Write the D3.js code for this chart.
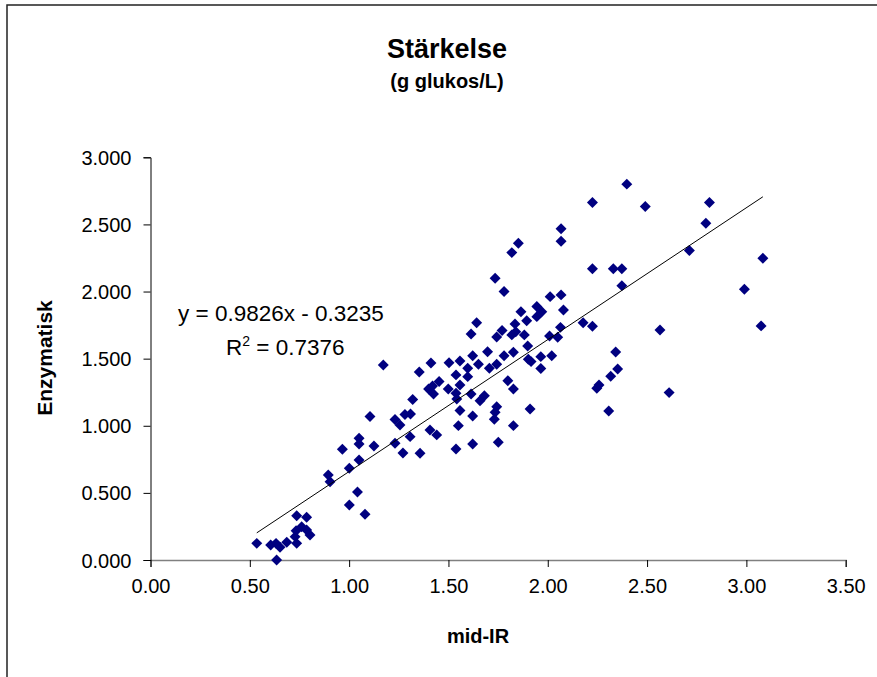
<!DOCTYPE html>
<html>
<head>
<meta charset="utf-8">
<script src="https://cdn.jsdelivr.net/npm/d3@7"></script>
<style>
  body { margin: 0; background: #fff; }
  text { font-family: "Liberation Sans", Arial, sans-serif; fill: #000; }
</style>
</head>
<body>
<div id="chart"></div>
<script>
var width = 877,
    height = 677;

// mid-IR prediction (x) and enzymatic reference (y), g glukos/L
var midIR = [
  0.535, 0.605, 0.632, 0.652, 0.686, 0.736, 0.635, 0.736, 0.786, 0.733, 0.728, 0.761, 0.786, 0.803,
  0.895, 0.904, 0.966, 1.001, 1.050, 1.050, 1.050, 1.125, 1.105, 1.001, 1.042, 1.080, 1.172, 1.231,
  1.256, 1.281, 1.309, 1.231, 1.271, 1.307, 1.320, 1.353, 1.357,
  1.412, 1.400, 1.420, 1.425, 1.453, 1.407, 1.441, 1.499, 1.503, 1.538, 1.558, 1.558, 1.538, 1.542,
  1.597, 1.597, 1.614, 1.558, 1.550, 1.538, 1.622, 1.622, 1.614, 1.622, 1.642, 1.651, 1.659, 1.681,
  1.697, 1.706, 1.735, 1.780, 1.743, 1.770, 1.743, 1.743, 1.735, 1.731, 1.751, 1.780, 1.799, 1.819,
  1.827, 1.827, 1.827, 1.819, 1.852, 1.835, 1.839,
  1.865, 1.894, 1.882, 1.899, 1.902, 1.916, 1.911, 1.945, 1.970, 1.945, 1.965, 1.965, 2.009, 2.012,
  2.020, 2.050, 2.067, 2.067, 2.067, 2.079, 2.064,
  2.178, 2.225, 2.225, 2.225, 2.330, 2.373, 2.373, 2.398, 2.491, 2.342, 2.352, 2.317, 2.247, 2.258,
  2.307, 2.565, 2.611, 2.713, 2.796, 2.814, 2.990, 3.083, 3.074
];
var enzymatisk = [
  0.124, 0.112, 0.124, 0.095, 0.132, 0.124, 0.000, 0.330, 0.318, 0.218, 0.174, 0.248, 0.224, 0.186,
  0.633, 0.583, 0.825, 0.683, 0.745, 0.907, 0.864, 0.850, 1.069, 0.410, 0.507, 0.341, 1.453, 1.047,
  1.006, 1.084, 1.088, 0.870, 0.797, 0.919, 1.196, 1.401, 0.795,
  1.468, 1.274, 1.297, 1.237, 1.330, 0.969, 0.932, 1.274, 1.470, 1.379, 1.483, 1.304, 1.242, 1.200,
  1.429, 1.366, 1.237, 1.113, 1.001, 0.827, 1.073, 0.864, 1.684, 1.522, 1.768, 1.458, 1.187, 1.224,
  1.552, 1.429, 2.099, 2.001, 1.662, 1.710, 1.458, 1.142, 1.101, 1.048, 0.877, 1.522, 1.336, 1.677,
  1.548, 1.274, 1.001, 2.290, 2.360, 1.759, 1.701,
  1.850, 1.783, 1.677, 1.595, 1.496, 1.478, 1.125, 1.888, 1.850, 1.813, 1.515, 1.427, 1.669, 1.962,
  1.522, 1.660, 2.467, 2.374, 1.975, 1.863, 1.733,
  1.768, 1.742, 2.663, 2.169, 2.169, 2.169, 2.044, 2.800, 2.633, 1.550, 1.423, 1.369, 1.280, 1.304,
  1.110, 1.714, 1.247, 2.305, 2.509, 2.663, 2.017, 2.248, 1.744
];

var xTicks = [0, 0.5, 1, 1.5, 2, 2.5, 3, 3.5];
var yTicks = [0, 0.5, 1, 1.5, 2, 2.5, 3];

// linear trendline as shown on the chart
var slope = 0.9826,
    intercept = -0.3235,
    rSquared = 0.7376;

var svg = d3.select("#chart").append("svg")
    .attr("width", width)
    .attr("height", height);

// outer chart border (runs off the right / bottom edge)
svg.append("rect")
    .attr("x", 7)
    .attr("y", 5)
    .attr("width", 900)
    .attr("height", 700)
    .attr("fill", "#fff")
    .attr("stroke", "#222")
    .attr("stroke-width", 1.5);

var x = d3.scaleLinear().domain([0, 3.5]).range([150.5, 845.7]);
var y = d3.scaleLinear().domain([0, 3]).range([560, 157.3]);

// titles
svg.append("text")
    .attr("x", 447).attr("y", 58)
    .attr("text-anchor", "middle")
    .style("font-size", "27px").style("font-weight", "bold")
    .text("Stärkelse");
svg.append("text")
    .attr("x", 447).attr("y", 88)
    .attr("text-anchor", "middle")
    .style("font-size", "20px").style("font-weight", "bold")
    .text("(g glukos/L)");

// x axis
var xAxis = svg.append("g")
    .attr("transform", "translate(0," + y(0) + ")")
    .call(d3.axisBottom(x).tickValues(xTicks).tickSize(7).tickPadding(12)
      .tickFormat(d3.format(".2f")));
xAxis.select(".domain").attr("stroke", "#808080").attr("stroke-width", 1.5);
xAxis.selectAll(".tick line").attr("stroke", "#000");
xAxis.selectAll("text").style("font-size", "20px").attr("fill", "#000");

// y axis
var yAxis = svg.append("g")
    .attr("transform", "translate(" + x(0) + ",0)")
    .call(d3.axisLeft(y).tickValues(yTicks).tickSize(7).tickPadding(12)
      .tickFormat(d3.format(".3f")));
yAxis.select(".domain").attr("stroke", "#000");
yAxis.selectAll("text").style("font-size", "20px").attr("fill", "#000")
    .attr("dy", "0.35em");

// axis titles
svg.append("text")
    .attr("x", 478).attr("y", 643)
    .attr("text-anchor", "middle")
    .style("font-size", "20px").style("font-weight", "bold")
    .text("mid-IR");
svg.append("text")
    .attr("transform", "translate(52,358) rotate(-90)")
    .attr("text-anchor", "middle")
    .style("font-size", "21px").style("font-weight", "bold")
    .text("Enzymatisk");

// points
var points = midIR.map(function(d, i) { return [d, enzymatisk[i]]; });

svg.append("g").selectAll("path")
    .data(points)
  .enter().append("path")
    .attr("d", d3.symbol().type(d3.symbolSquare).size(60))
    .attr("transform", function(d) {
      return "translate(" + x(d[0]) + "," + y(d[1]) + ") rotate(45)";
    })
    .attr("fill", "#000080");

// trendline over the x range of the data
var xr = d3.extent(midIR);
svg.append("line")
    .attr("x1", x(xr[0])).attr("y1", y(slope * xr[0] + intercept))
    .attr("x2", x(xr[1])).attr("y2", y(slope * xr[1] + intercept))
    .attr("stroke", "#000")
    .attr("stroke-width", 1);

// equation label
svg.append("text")
    .attr("x", 178).attr("y", 321)
    .style("font-size", "22.5px")
    .text("y = " + slope + "x - " + Math.abs(intercept));
var r2 = svg.append("text")
    .attr("x", 226).attr("y", 355)
    .style("font-size", "22.5px");
r2.append("tspan").text("R");
r2.append("tspan").attr("dy", -9).style("font-size", "14px").text("2");
r2.append("tspan").attr("dy", 9).text(" = " + rSquared);
</script>
</body>
</html>
